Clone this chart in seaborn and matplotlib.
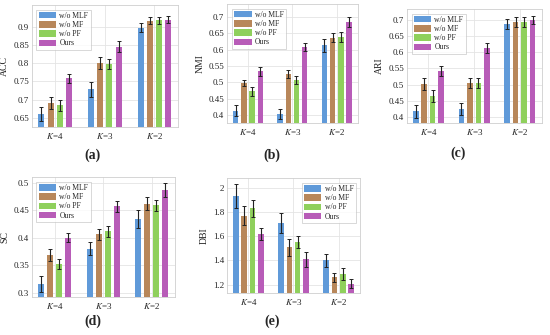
import numpy as np
import pandas as pd
import matplotlib
matplotlib.use("Agg")
import matplotlib.pyplot as plt
import seaborn as sns

groups = ["K=4", "K=3", "K=2"]
group_labels = ["$K$=4", "$K$=3", "$K$=2"]
methods = ["w/o MLF", "w/o MF", "w/o PF", "Ours"]

acc = {"w/o MLF": [0.661, 0.728, 0.898], "w/o MF": [0.691, 0.800, 0.917],
       "w/o PF": [0.685, 0.799, 0.918], "Ours": [0.759, 0.846, 0.920]}
acc_err = {"w/o MLF": [0.020, 0.020, 0.012], "w/o MF": [0.016, 0.017, 0.010],
           "w/o PF": [0.015, 0.014, 0.010], "Ours": [0.012, 0.014, 0.010]}

nmi = {"w/o MLF": [0.413, 0.402, 0.613], "w/o MF": [0.497, 0.524, 0.637],
       "w/o PF": [0.472, 0.507, 0.638], "Ours": [0.533, 0.608, 0.685]}
nmi_err = {"w/o MLF": [0.017, 0.015, 0.020], "w/o MF": [0.010, 0.012, 0.013],
           "w/o PF": [0.013, 0.013, 0.016], "Ours": [0.013, 0.013, 0.015]}

ari = {"w/o MLF": [0.418, 0.425, 0.688], "w/o MF": [0.502, 0.505, 0.692],
       "w/o PF": [0.465, 0.505, 0.692], "Ours": [0.541, 0.613, 0.700]}
ari_err = {"w/o MLF": [0.020, 0.018, 0.015], "w/o MF": [0.018, 0.014, 0.015],
           "w/o PF": [0.017, 0.014, 0.015], "Ours": [0.015, 0.014, 0.013]}

sc = {"w/o MLF": [0.316, 0.380, 0.434], "w/o MF": [0.368, 0.406, 0.462],
      "w/o PF": [0.352, 0.412, 0.459], "Ours": [0.400, 0.457, 0.487]}
sc_err = {"w/o MLF": [0.014, 0.012, 0.017], "w/o MF": [0.011, 0.010, 0.012],
          "w/o PF": [0.009, 0.010, 0.010], "Ours": [0.008, 0.010, 0.013]}

dbi = {"w/o MLF": [1.93, 1.71, 1.40], "w/o MF": [1.77, 1.51, 1.26],
       "w/o PF": [1.83, 1.55, 1.29], "Ours": [1.62, 1.41, 1.21]}
dbi_err = {"w/o MLF": [0.10, 0.08, 0.05], "w/o MF": [0.08, 0.07, 0.04],
           "w/o PF": [0.07, 0.05, 0.05], "Ours": [0.05, 0.06, 0.04]}

colors = ["#609ad9", "#b8875a", "#8fd05c", "#b85cb8"]

sns.set_theme(style="whitegrid")
plt.rcParams["font.family"] = ["Liberation Serif", "DejaVu Serif"]
plt.rcParams["mathtext.fontset"] = "stix"

fig = plt.figure(figsize=(5.5, 3.35), dpi=100)

panels = [
    ("ACC", acc, acc_err, [0.058, 0.621, 0.266, 0.364], (0.625, 0.96),
     [0.65, 0.7, 0.75, 0.8, 0.85, 0.9], "upper left", "(a)", (0.168, 0.537)),
    ("NMI", nmi, nmi_err, [0.413, 0.633, 0.238, 0.355], (0.375, 0.74),
     [0.4, 0.45, 0.5, 0.55, 0.6, 0.65, 0.7], "upper left", "(b)", (0.495, 0.537)),
    ("ARI", ari, ari_err, [0.740, 0.633, 0.245, 0.340], (0.382, 0.733),
     [0.4, 0.45, 0.5, 0.55, 0.6, 0.65, 0.7], "upper left", "(c)", (0.833, 0.543)),
    ("SC", sc, sc_err, [0.058, 0.113, 0.260, 0.358], (0.292, 0.51),
     [0.3, 0.35, 0.4, 0.45, 0.5], "upper left", "(d)", (0.168, 0.040)),
    ("DBI", dbi, dbi_err, [0.413, 0.125, 0.242, 0.343], (1.131, 2.077),
     [1.2, 1.4, 1.6, 1.8, 2.0], "upper right", "(e)", (0.495, 0.040)),
]

def fmt(v):
    return "%g" % v

for ylabel, vals, errs, pos, ylim, yticks, legloc, tag, tagpos in panels:
    ax = fig.add_axes(pos)
    rows = []
    for m in methods:
        for g, v in zip(groups, vals[m]):
            rows.append({"group": g, "method": m, "value": v})
    df = pd.DataFrame(rows)
    sns.barplot(data=df, x="group", y="value", hue="method", order=groups,
                hue_order=methods, palette=colors, width=0.74, gap=0.34,
                errorbar=None, ax=ax, saturation=1, edgecolor="none")
    for i, m in enumerate(methods):
        cont = ax.containers[i]
        xs = [p.get_x() + p.get_width() / 2 for p in cont.patches]
        ax.errorbar(xs, vals[m], yerr=errs[m], fmt="none", ecolor="#222222",
                    elinewidth=0.8, capsize=1.6, capthick=0.7, zorder=5)
    ax.set_ylim(*ylim)
    ax.set_yticks(yticks)
    ax.set_yticklabels([fmt(t) for t in yticks])
    ax.set_xticks(range(3))
    ax.set_xticklabels(group_labels)
    ax.set_xlim(-0.47, 2.48)
    ax.set_xlabel("")
    ax.set_ylabel(ylabel, fontsize=7, labelpad=3)
    ax.tick_params(axis="x", labelsize=6.5, length=0, pad=3)
    ax.tick_params(axis="y", labelsize=6.5, length=0, pad=2)
    ax.grid(True, color="#e4e4e4", linewidth=0.6)
    ax.set_axisbelow(True)
    for s in ax.spines.values():
        s.set_color("#cfcfcf")
        s.set_linewidth(0.6)
    leg = ax.legend(loc=legloc, fontsize=5.5, frameon=True, handlelength=2.3,
                    handleheight=0.9, borderpad=0.3, labelspacing=0.15,
                    handletextpad=0.4, fancybox=False, borderaxespad=0.6)
    leg.get_frame().set_edgecolor("#bbbbbb")
    leg.get_frame().set_linewidth(0.5)
    fig.text(tagpos[0], tagpos[1], tag, fontsize=10, fontweight="bold",
             ha="center", va="center")

fig.savefig("out.png", dpi=100)
